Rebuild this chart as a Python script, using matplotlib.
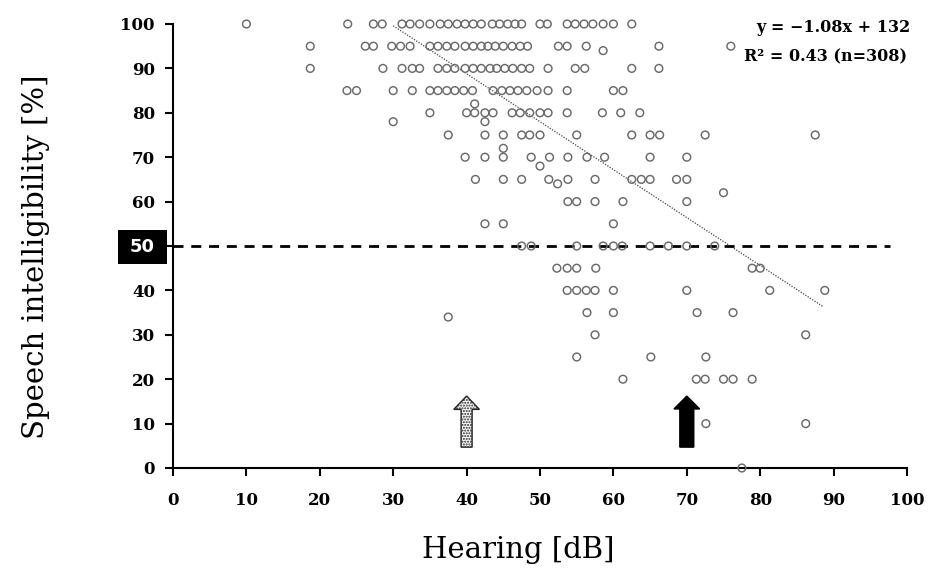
import matplotlib
matplotlib.use("Agg")
import matplotlib.pyplot as plt
import matplotlib.patches as mpatches

plt.rcParams["font.family"] = "DejaVu Serif"

# Hearing level [dB] of the points, grouped by speech intelligibility [%]
hear_100 = [10, 23.8, 27.3, 28.5, 31.2, 32.3, 33.6, 35, 36.4, 37.5, 38.7, 39.8, 40.9, 42,
            43.5, 44.5, 45.6, 46.6, 47.5, 50, 51, 53.7, 54.8, 56, 57.2, 58.6, 60, 62.5]
hear_95 = [18.7, 26.2, 27.3, 29.8, 31.0, 32.3, 35, 36.1, 37.3, 38.4, 39.8, 40.9, 42, 42.9,
           43.9, 45, 46.2, 47.3, 48.3, 52.5, 53.7, 56.3, 66.2, 76]
hear_94 = [58.6]
hear_90 = [18.7, 28.6, 31.2, 32.6, 33.6, 36.1, 37.3, 38.4, 39.8, 40.9, 42, 43.2, 44.1, 45.2,
           46.3, 47.5, 48.6, 51.1, 54.8, 56.1, 62.5, 66.2]
hear_85 = [23.7, 25, 30, 32.6, 35, 36.1, 37.3, 38.4, 39.6, 40.8, 43.6, 44.8, 45.9, 47, 48.2,
           49.6, 51.1, 53.7, 60, 61.3]
hear_82 = [41.1]
hear_80 = [35, 40, 41.1, 42.5, 43.6, 46.2, 47.3, 48.6, 50, 51.1, 53.7, 58.5, 61, 63.6]
hear_78 = [30, 42.5]
hear_75 = [37.5, 42.5, 45, 47.5, 48.6, 50, 55, 62.5, 65, 66.3, 72.5, 87.5]
hear_72 = [45]
hear_70 = [39.8, 42.5, 45, 48.8, 51.3, 53.8, 56.4, 58.8, 65, 70]
hear_68 = [50]
hear_65 = [41.2, 45, 47.5, 51.2, 53.8, 57.5, 62.5, 63.8, 65, 68.6, 70]
hear_64 = [52.4]
hear_62 = [75]
hear_60 = [53.8, 55, 57.5, 61.3, 70]
hear_55 = [42.5, 45, 60]
hear_50 = [47.5, 48.8, 55, 58.6, 60, 61.2, 65, 67.5, 70, 73.8]
hear_45 = [52.3, 53.7, 55, 57.6, 78.9, 80]
hear_40 = [53.7, 55, 56.3, 57.5, 60, 70, 81.3, 88.8]
hear_35 = [56.4, 60, 71.4, 76.3]
hear_34 = [37.5]
hear_30 = [57.5, 86.2]
hear_25 = [55, 65.1, 72.6]
hear_20 = [61.3, 71.3, 72.5, 75, 76.3, 78.9]
hear_10 = [72.6, 86.2]
hear_0 = [77.5]

groups = [(100, hear_100), (95, hear_95), (94, hear_94), (90, hear_90), (85, hear_85),
          (82, hear_82), (80, hear_80), (78, hear_78), (75, hear_75), (72, hear_72),
          (70, hear_70), (68, hear_68), (65, hear_65), (64, hear_64), (62, hear_62),
          (60, hear_60), (55, hear_55), (50, hear_50), (45, hear_45), (40, hear_40),
          (35, hear_35), (34, hear_34), (30, hear_30), (25, hear_25), (20, hear_20),
          (10, hear_10), (0, hear_0)]

# regression
slope = -1.08
intercept = 132
fit_x = [30, 88.5]

threshold = 50
arrow_x = [40, 70]
arrow_y = [4.7, 16.2]

xs = []
ys = []
for level, vals in groups:
    for v in vals:
        xs.append(v)
        ys.append(level)

fig = plt.figure(figsize=(9.3, 5.74), dpi=100)
ax = fig.add_axes([173/930, 1-468/574, 734/930, 444/574])

ax.scatter(xs, ys, s=31, facecolors="none", edgecolors="#6a6a6a", linewidths=1.05,
           clip_on=False, zorder=3)

# regression line (dotted)
ax.plot(fit_x, [slope*x + intercept for x in fit_x], color="#444444", lw=0.9,
        linestyle=(0, (1, 1.2)), zorder=2)

# 50 % threshold
ax.plot([0, 97.7], [threshold, threshold], color="black", lw=2, dashes=(3.6, 2.8), zorder=2)

# arrows
a1 = mpatches.FancyArrow(arrow_x[0], arrow_y[0], 0, arrow_y[1]-arrow_y[0], width=1.5,
                         head_width=3.5, head_length=3.0, length_includes_head=True,
                         facecolor="white", edgecolor="#222222", hatch="......", lw=1)
a2 = mpatches.FancyArrow(arrow_x[1], arrow_y[0], 0, arrow_y[1]-arrow_y[0], width=1.9,
                         head_width=3.5, head_length=2.9, length_includes_head=True,
                         facecolor="black", edgecolor="black", lw=1)
ax.add_patch(a1)
ax.add_patch(a2)

ax.set_xlim(0, 100)
ax.set_ylim(0, 100)
ax.set_xticks(range(0, 101, 10))
ax.set_yticks(range(0, 101, 10))
ylabels = [str(v) if v != threshold else "" for v in range(0, 101, 10)]
ax.set_yticklabels(ylabels)
for s in ["top", "right"]:
    ax.spines[s].set_visible(False)
for s in ["left", "bottom"]:
    ax.spines[s].set_linewidth(1.5)
ax.tick_params(axis="both", direction="out", length=6, width=1.5, labelsize=12)
ax.tick_params(axis="y", pad=7)
ax.tick_params(axis="x", pad=11)
for lab in ax.get_xticklabels() + ax.get_yticklabels():
    lab.set_fontweight("bold")

# black box "50"
box = mpatches.Rectangle((118/930, 1-264/574), 49/930, 34/574, transform=fig.transFigure,
                         facecolor="black", edgecolor="none")
fig.patches.append(box)
fig.text(142.5/930, 1-247/574, "50", color="white", fontsize=13, fontweight="bold",
         family="DejaVu Sans", ha="center", va="center")

# equation
ax.text(100.5, 99.3, "y = \u22121.08x + 132", ha="right", va="center", fontsize=11.5,
        fontweight="bold")
ax.text(100.0, 92.6, "R\u00b2 = 0.43 (n=308)", ha="right", va="center", fontsize=11.5,
        fontweight="bold")

fig.text(36/930, 1-257/574, "Speech intelligibility [%]", rotation=90, ha="center",
         va="center", fontsize=21)
fig.text(518/930, 1-550/574, "Hearing [dB]", ha="center", va="center", fontsize=21)

fig.savefig("out.png", dpi=100)
